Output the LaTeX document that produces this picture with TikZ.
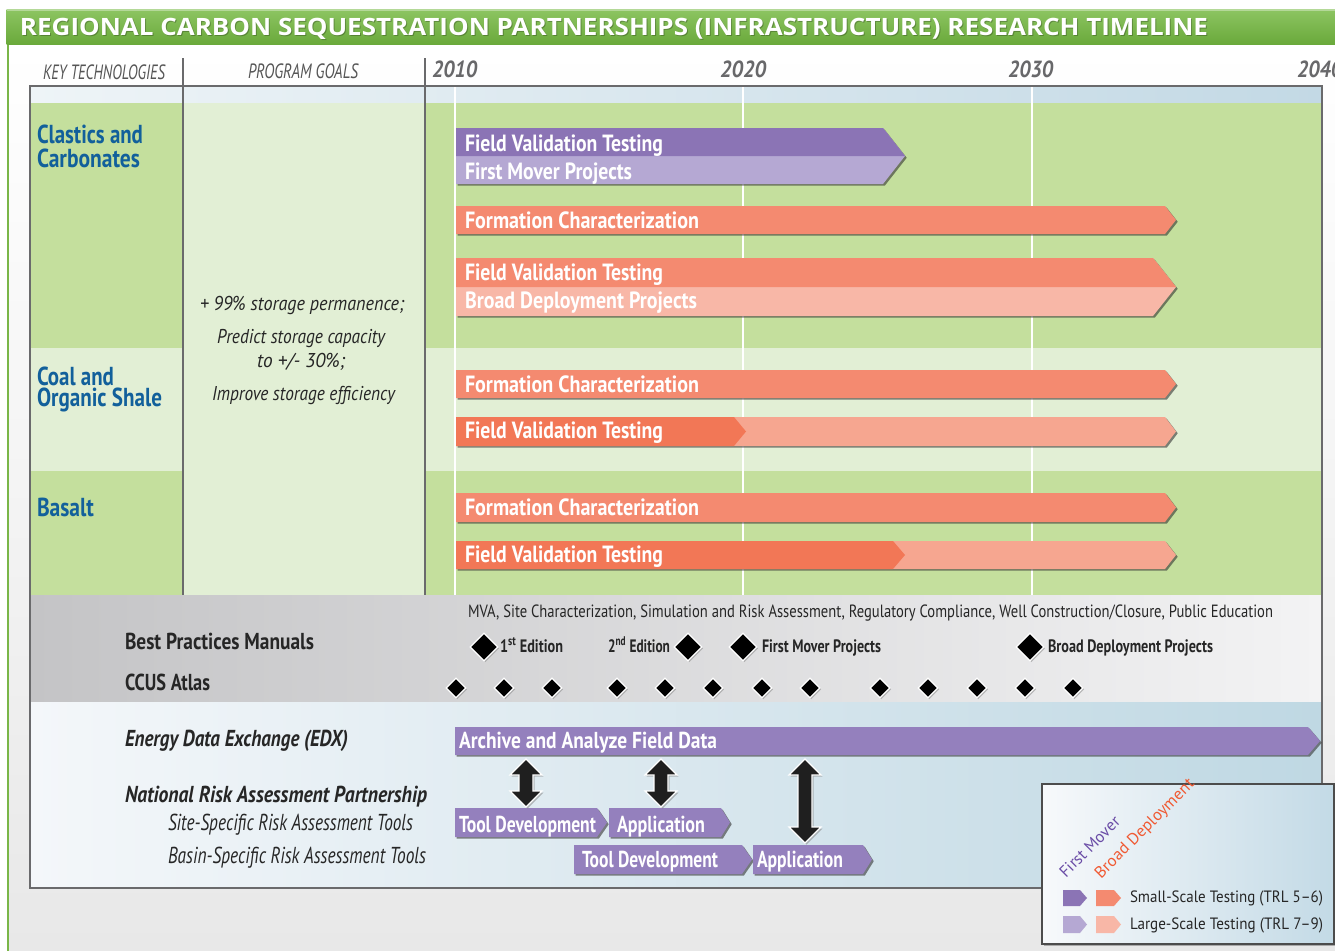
\documentclass[tikz,border=0pt]{standalone}
\usepackage{fontspec}
\usepackage{graphicx}
\setmainfont{PT Sans}
\newfontfamily\ttlfont{Open Sans}
\usetikzlibrary{shapes.geometric,shadows,calc}
\newlength\pxu \setlength\pxu{0.75pt}
\newcommand\fw[2]{\resizebox{#1\pxu}{\height}{#2}}
\newcommand\fsz[1]{\fontsize{#1pt}{#1pt}\selectfont}
\definecolor{hdrtop}{HTML}{8DC562}
\definecolor{hdrbot}{HTML}{6AA93B}
\definecolor{framec}{HTML}{7AB648}
\definecolor{rowdk}{HTML}{C4DF9D}
\definecolor{rowlt}{HTML}{E2EFD5}
\definecolor{purdk}{HTML}{8B74B5}
\definecolor{purlt}{HTML}{B5A8D3}
\definecolor{purmid}{HTML}{9480BD}
\definecolor{cor}{HTML}{F48A70}
\definecolor{corlt}{HTML}{F8B7A7}
\definecolor{cordk}{HTML}{F27756}
\definecolor{cormid}{HTML}{F6A690}
\definecolor{bluelbl}{HTML}{12609B}
\definecolor{grtxt}{HTML}{555555}
\definecolor{yeartxt}{HTML}{68686A}
\definecolor{txtdk}{HTML}{262626}
\definecolor{stripL}{HTML}{EEF4F7}
\definecolor{stripR}{HTML}{C3D9E5}
\definecolor{grayL}{HTML}{C4C4C6}
\definecolor{grayR}{HTML}{F3F3F4}
\definecolor{botL}{HTML}{F4F7FA}
\definecolor{botR}{HTML}{BFD8E3}
\definecolor{lgL}{HTML}{F7F9FB}
\definecolor{lgR}{HTML}{C3DAE6}
\definecolor{lgpur}{HTML}{6A4CA6}
\definecolor{lgor}{HTML}{F05A33}
\definecolor{sepc}{HTML}{6A6A6C}
\tikzset{
  barsh/.style={drop shadow={shadow xshift=1.3pt,shadow yshift=-1.3pt,opacity=0.6,fill=black!80}},
  txt/.style={anchor=base west,inner sep=0pt,outer sep=0pt},
  barlbl/.style={txt,text=white,font=\bfseries\fsz{17.6}},
  rowlbl/.style={txt,text=bluelbl,font=\bfseries\fsz{19.5}},
  goal/.style={txt,text=txtdk,font=\itshape\fsz{15}},
  yearlbl/.style={txt,text=yeartxt,font=\bfseries\itshape\fsz{17.5}},
  colhdr/.style={txt,text=grtxt,font=\itshape\fsz{15.5}},
  bigdia/.style={diamond,fill=black,draw=white,line width=1pt,minimum size=21pt,inner sep=0pt,
    drop shadow={shadow xshift=1pt,shadow yshift=-1pt,opacity=0.5}},
  smalldia/.style={diamond,fill=black,draw=white,line width=0.9pt,minimum size=15pt,inner sep=0pt,
    drop shadow={shadow xshift=1pt,shadow yshift=-1pt,opacity=0.5}},
  dialbl/.style={txt,text=txtdk,font=\bfseries\fsz{13.5}},
  dblarr/.style={fill=black!88,draw=white,line width=0.9pt,
    drop shadow={shadow xshift=1.2pt,shadow yshift=-1.2pt,opacity=0.5}},
  sepline/.style={draw=sepc,line width=1.2pt},
  grid/.style={draw=white,line width=1.1pt}
}
% #1 style, #2 x1, #3 y1, #4 x2 (tip), #5 y2, #6 tip length
\newcommand\chev[6]{\fill[#1] (#2,#3) -- ({#4-#6},#3) -- (#4,{(#3+#5)/2}) -- ({#4-#6},#5) -- (#2,#5) -- cycle;}
\newcommand\dbl[2]{\path[dblarr] (#1) -- ($(#1)+(16,16)$) -- ($(#1)+(7,16)$) -- ($(#2)+(7,-16)$) -- ($(#2)+(16,-16)$) -- (#2) -- ($(#2)+(-16,-16)$) -- ($(#2)+(-7,-16)$) -- ($(#1)+(-7,16)$) -- ($(#1)+(-16,16)$) -- cycle;}
\begin{document}
\begin{tikzpicture}[x=0.75pt,y=-0.75pt]
\useasboundingbox (0,0) rectangle (1335,950);
% page background and frame
\shade[top color=white,bottom color=black!9] (8,44) rectangle (1340,950);
\fill[framec] (6.5,9) rectangle (8.5,952);
\shade[top color=hdrtop,bottom color=hdrbot] (6.5,9) rectangle (1340,44);
\fill[white,opacity=0.35] (6.5,9) rectangle (1340,10.5);
\node[txt,text=black,opacity=0.25,font=\ttlfont\bfseries\fsz{17.9}] (titlesh) at (21,36.2) {\fw{1188}{REGIONAL CARBON SEQUESTRATION PARTNERSHIPS (INFRASTRUCTURE) RESEARCH TIMELINE}};
\node[txt,text=white,font=\ttlfont\bfseries\fsz{17.9}] (title) at (20,35) {\fw{1188}{REGIONAL CARBON SEQUESTRATION PARTNERSHIPS (INFRASTRUCTURE) RESEARCH TIMELINE}};
% column headers
\node[colhdr] (kt) at (43,79) {\fw{122}{KEY TECHNOLOGIES}};
\node[colhdr] (pg) at (248,78) {\fw{110}{PROGRAM GOALS}};
\node[yearlbl] (y2010) at (432,77) {\fw{45}{2010}};
\node[yearlbl] (y2020) at (720,77) {\fw{46}{2020}};
\node[yearlbl] (y2030) at (1008,77) {\fw{45}{2030}};
\node[yearlbl] (y2040) at (1297,77) {\fw{45}{2040}};
% box fills
\shade[left color=stripL,right color=stripR] (30,86) rectangle (1322,103);
\fill[rowdk] (30,103) rectangle (1322,348);
\fill[rowlt] (30,348) rectangle (1322,471);
\fill[rowdk] (30,471) rectangle (1322,595);
\fill[rowlt] (183,103) rectangle (425,595);
\shade[left color=grayL,right color=grayR] (30,595) rectangle (1322,702);
\shade[left color=botL,right color=botR] (30,702) rectangle (1322,888);
% grid lines
\foreach \gx in {455,743,1032} {\draw[grid] (\gx,86) -- (\gx,595);}
% separators and box
\draw[sepline] (183,58) -- (183,595);
\draw[sepline] (425,58) -- (425,595);
\draw[sepline] (30,86) rectangle (1322,888);
% row labels
\node[rowlbl] (cl1) at (37,143) {\fw{106}{Clastics and}};
\node[rowlbl] (cl2) at (37,167) {\fw{103}{Carbonates}};
\node[rowlbl] (co1) at (37,385) {\fw{77}{Coal and}};
\node[rowlbl] (co2) at (37,406) {\fw{125}{Organic Shale}};
\node[rowlbl] (ba) at (37,516) {\fw{57}{Basalt}};
% program goals
\node[goal] (g1) at (200,310) {\fw{204}{+ 99\% storage permanence;}};
\node[goal] (g2) at (217,343) {\fw{168}{Predict storage capacity}};
\node[goal] (g3) at (257,367) {\fw{88}{to +/- 30\%;}};
\node[goal] (g4) at (212,400) {\fw{183}{Improve storage efficiency}};
% row 1 bars
\chev{purlt,barsh}{456}{128}{905}{184}{22}
\fill[purdk] (456,128) -- (883,128) -- (905,156) -- (456,156) -- cycle;
\chev{cor,barsh}{456}{206}{1176}{234}{11}
\chev{corlt,barsh}{456}{258}{1176}{316}{23}
\fill[cor] (456,258) -- (1153,258) -- (1176,287) -- (456,287) -- cycle;
\node[barlbl] (b1) at (465,151) {\fw{198}{Field Validation Testing}};
\node[barlbl] (b2) at (465,179) {\fw{167}{First Mover Projects}};
\node[barlbl] (b3) at (465,228) {\fw{234}{Formation Characterization}};
\node[barlbl] (b4) at (465,280) {\fw{198}{Field Validation Testing}};
\node[barlbl] (b5) at (465,308) {\fw{232}{Broad Deployment Projects}};
% row 2 bars
\chev{cor,barsh}{456}{370}{1176}{398}{11}
\chev{cormid,barsh}{456}{417}{1176}{446}{11}
\chev{cordk}{456}{417}{746}{446}{12}
\node[barlbl] (b6) at (465,392) {\fw{234}{Formation Characterization}};
\node[barlbl] (b7) at (465,438) {\fw{198}{Field Validation Testing}};
% row 3 bars
\chev{cor,barsh}{456}{493}{1176}{522}{11}
\chev{cormid,barsh}{456}{541}{1176}{569}{11}
\chev{cordk}{456}{541}{905}{569}{12}
\node[barlbl] (b8) at (465,515) {\fw{234}{Formation Characterization}};
\node[barlbl] (b9) at (465,562) {\fw{198}{Field Validation Testing}};
% gray band
\node[txt,text=txtdk,font=\fsz{13.3}] (mva) at (468,617) {\fw{805}{MVA, Site Characterization, Simulation and Risk Assessment, Regulatory Compliance, Well Construction/Closure, Public Education}};
\node[txt,text=txtdk,font=\bfseries\fsz{17.3}] (bpm) at (125,649) {\fw{189}{Best Practices Manuals}};
\node[txt,text=txtdk,font=\bfseries\fsz{17.3}] (ccus) at (125,690) {\fw{85}{CCUS Atlas}};
\node[bigdia] (d1) at (484,647) {};
\node[bigdia] (d2) at (688,647) {};
\node[bigdia] (d3) at (743,647) {};
\node[bigdia] (d4) at (1030,647) {};
\node[dialbl] (e1) at (500,652) {\fw{63}{1\textsuperscript{st} Edition}};
\node[dialbl] (e2) at (608,652) {\fw{62}{2\textsuperscript{nd} Edition}};
\node[dialbl] (e3) at (762,652) {\fw{119}{First Mover Projects}};
\node[dialbl] (e4) at (1048,652) {\fw{165}{Broad Deployment Projects}};
\foreach \sx [count=\i] in {456,504,552,617,665,713,762,810,880,928,977,1025,1073}
  {\node[smalldia] (s\i) at (\sx,688) {};}
% bottom band
\node[txt,text=txtdk,font=\bfseries\itshape\fsz{17.3}] (edx) at (125,746) {\fw{223}{Energy Data Exchange (EDX)}};
\node[txt,text=txtdk,font=\bfseries\itshape\fsz{17.3}] (nrap) at (125,802) {\fw{302}{National Risk Assessment Partnership}};
\node[txt,text=txtdk,font=\itshape\fsz{17.3}] (site) at (168,830) {\fw{245}{Site-Specific Risk Assessment Tools}};
\node[txt,text=txtdk,font=\itshape\fsz{17.3}] (basin) at (168,863) {\fw{258}{Basin-Specific Risk Assessment Tools}};
\chev{purmid,barsh}{455}{727}{1320}{755}{12}
\chev{purmid,barsh}{455}{808}{607}{837}{10}
\chev{purmid,barsh}{609}{808}{730}{837}{9}
\chev{purmid,barsh}{574}{845}{752}{874}{10}
\chev{purmid,barsh}{753}{845}{872}{874}{9}
\node[barlbl,font=\bfseries\fsz{17.3}] (arch) at (459,748) {\fw{258}{Archive and Analyze Field Data}};
\node[barlbl,font=\bfseries\fsz{17.3}] (td1) at (459,832) {\fw{137}{Tool Development}};
\node[barlbl,font=\bfseries\fsz{17.3}] (ap1) at (617,832) {\fw{88}{Application}};
\node[barlbl,font=\bfseries\fsz{17.3}] (td2) at (582,867) {\fw{136}{Tool Development}};
\node[barlbl,font=\bfseries\fsz{17.3}] (ap2) at (757,867) {\fw{86}{Application}};
\coordinate (a1t) at (526,759); \coordinate (a1b) at (526,807);
\coordinate (a2t) at (661,759); \coordinate (a2b) at (661,807);
\coordinate (a3t) at (805,759); \coordinate (a3b) at (805,843);
\dbl{a1t}{a1b}
\dbl{a2t}{a2b}
\dbl{a3t}{a3b}
% legend
\shade[left color=lgL,right color=lgR,draw=black!70,line width=1.5pt,
  drop shadow={shadow xshift=1.5pt,shadow yshift=-1.5pt,opacity=0.6}] (1042,784) rectangle (1334,944);
\node[txt,rotate=45,text=lgpur,font=\fsz{12.3}] (lfm) at (1066,878) {\fw{78}{First Mover}};
\node[txt,rotate=45,text=lgor,font=\fsz{12.3}] (lbd) at (1101,879) {\fw{133}{Broad Deployment}};
\chev{purdk}{1063}{890}{1087}{906}{7}
\chev{cor}{1096}{890}{1121}{906}{7}
\chev{purlt}{1063}{916}{1087}{933}{7}
\chev{corlt}{1096}{916}{1121}{933}{7}
\node[txt,text=txtdk,font=\fsz{12.3}] (lss) at (1130,902) {\fw{193}{Small-Scale Testing (TRL 5–6)}};
\node[txt,text=txtdk,font=\fsz{12.3}] (lls) at (1130,929) {\fw{193}{Large-Scale Testing (TRL 7–9)}};
\end{tikzpicture}
\end{document}
